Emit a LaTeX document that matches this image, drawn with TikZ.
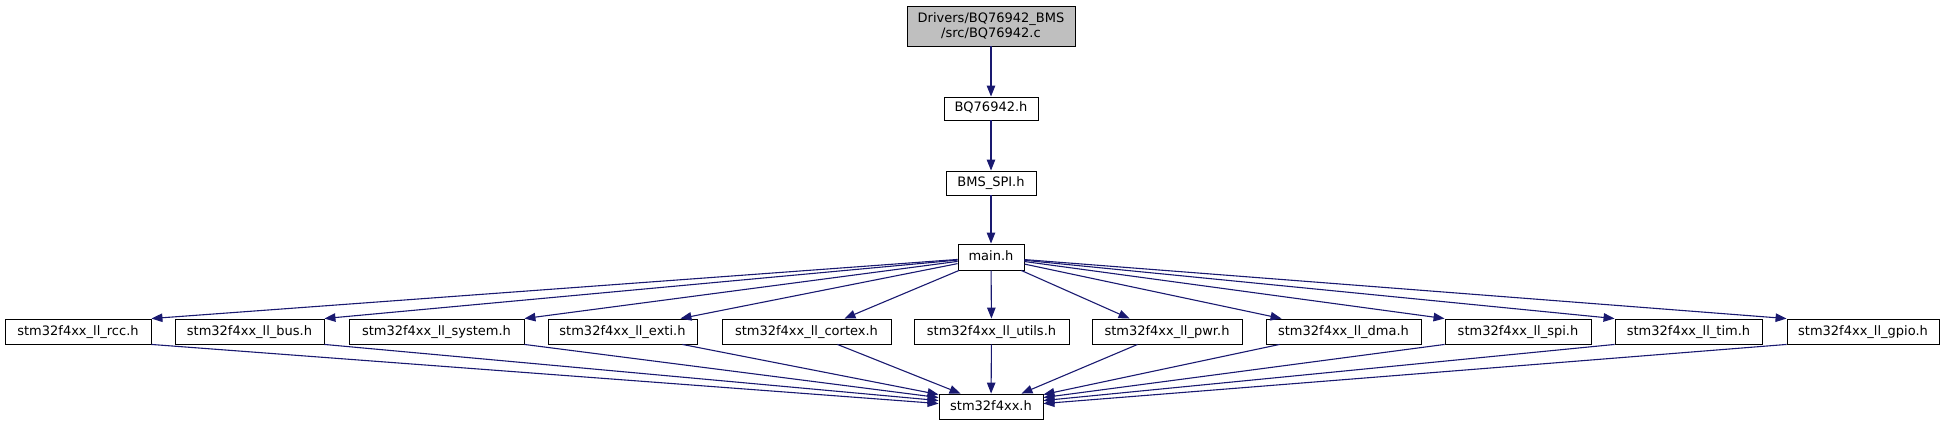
\documentclass[tikz,border=0pt]{standalone}
\usepackage{fontspec}
\setmainfont{DejaVu Sans}
\usetikzlibrary{arrows.meta}
\definecolor{edgeblue}{HTML}{191970}
\definecolor{rootgray}{HTML}{BFBFBF}
\begin{document}
\begin{tikzpicture}[x=1pt,y=-1pt,
  labelfont/.style={font=\fontsize{13}{15}\selectfont},
  box/.style={draw=black, line width=0.9pt, fill=white, inner sep=0pt,
    minimum height=25pt, labelfont, text height=9.5pt, text depth=2.5pt},
  rootbox/.style={draw=black, line width=0.9pt, fill=rootgray, inner sep=0pt,
    minimum height=40pt, minimum width=168pt, align=center, labelfont},
  edge/.style={draw=edgeblue, line width=1.1pt, -{Triangle[length=11pt,width=8.5pt]}},
]
\useasboundingbox (0,0) rectangle (1947,425);

\node[rootbox] (root) at (991,26) {Drivers/BQ76942\_BMS\\/src/BQ76942.c};
\node[box, minimum width=94pt, minimum height=23pt] (bq) at (991,108.5) {BQ76942.h};
\node[box, minimum width=90pt, minimum height=24pt] (bms) at (991,183) {BMS\_SPI.h};
\node[box, minimum width=66pt, minimum height=26pt] (main) at (991,257) {main.h};

\node[box, minimum width=146pt] (rcc) at (78,331.5) {stm32f4xx\_ll\_rcc.h};
\node[box, minimum width=149pt] (bus) at (249.5,331.5) {stm32f4xx\_ll\_bus.h};
\node[box, minimum width=175pt] (system) at (436.5,331.5) {stm32f4xx\_ll\_system.h};
\node[box, minimum width=149pt] (exti) at (622.5,331.5) {stm32f4xx\_ll\_exti.h};
\node[box, minimum width=169pt] (cortex) at (806.5,331.5) {stm32f4xx\_ll\_cortex.h};
\node[box, minimum width=155pt] (utils) at (991.5,331.5) {stm32f4xx\_ll\_utils.h};
\node[box, minimum width=150pt] (pwr) at (1167,331.5) {stm32f4xx\_ll\_pwr.h};
\node[box, minimum width=155pt] (dma) at (1343.5,331.5) {stm32f4xx\_ll\_dma.h};
\node[box, minimum width=146pt] (spi) at (1518,331.5) {stm32f4xx\_ll\_spi.h};
\node[box, minimum width=147pt] (tim) at (1688.5,331.5) {stm32f4xx\_ll\_tim.h};
\node[box, minimum width=152pt] (gpio) at (1863,331.5) {stm32f4xx\_ll\_gpio.h};

\node[box, minimum width=104pt] (stm) at (991,406.5) {stm32f4xx.h};

% chain
\draw[edge] (root) -- (bq);
\draw[edge] (bq) -- (bms);
\draw[edge] (bms) -- (main);

% main.h to the LL headers
\draw[edge] (main) -- (rcc.north east);
\draw[edge] (main) -- (bus.north east);
\draw[edge] (main) -- (system.north east);
\draw[edge] (main) -- ([xshift=-17pt]exti.north east);
\draw[edge] (main) -- ([xshift=-47pt]cortex.north east);
\draw[edge] (main) -- (utils);
\draw[edge] (main) -- ([xshift=38pt]pwr.north west);
\draw[edge] (main) -- ([xshift=16pt]dma.north west);
\draw[edge] (main) -- (spi.north west);
\draw[edge] (main) -- (tim.north west);
\draw[edge] (main) -- (gpio.north west);

% LL headers to stm32f4xx.h
\draw[edge] (rcc.south east) -- ([yshift=-10pt]stm.north west);
\draw[edge] (bus.south east) -- ([yshift=-7pt]stm.north west);
\draw[edge] (system.south east) -- ([yshift=-4pt]stm.north west);
\draw[edge] ([xshift=-15pt]exti.south east) -- ([yshift=-1pt]stm.north west);
\draw[edge] ([xshift=-54pt]cortex.south east) -- ([xshift=22pt]stm.north west);
\draw[edge] (utils) -- (stm);
\draw[edge] ([xshift=46pt]pwr.south west) -- ([xshift=-22pt]stm.north east);
\draw[edge] ([xshift=14pt]dma.south west) -- ([yshift=-1pt]stm.north east);
\draw[edge] (spi.south west) -- ([yshift=-4pt]stm.north east);
\draw[edge] (tim.south west) -- ([yshift=-7pt]stm.north east);
\draw[edge] (gpio.south west) -- ([yshift=-10pt]stm.north east);
\end{tikzpicture}
\end{document}
